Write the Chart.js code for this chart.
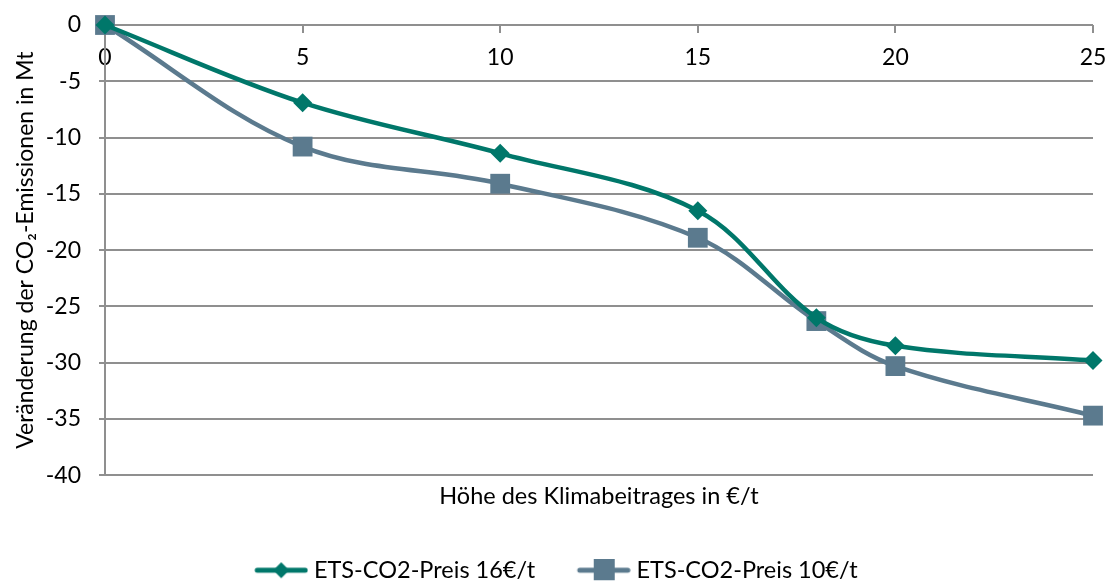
<!DOCTYPE html>
<html>
<head>
<meta charset="utf-8">
<script src="https://cdn.jsdelivr.net/npm/chart.js@4.4.1/dist/chart.umd.min.js"></script>
<style>
  html, body { margin: 0; padding: 0; background: #fff; }
  #wrap { width: 1110px; height: 581px; }
</style>
</head>
<body>
<div id="wrap"><canvas id="chart"></canvas></div>
<script>
// Data
const klimabeitrag = [0, 5, 10, 15, 18, 20, 25];
const preis16 = [0, -6.9, -11.4, -16.5, -26.0, -28.5, -29.8];
const preis10 = [0, -10.8, -14.1, -18.9, -26.3, -30.3, -34.7];
const seriesNames = ['ETS-CO2-Preis 16€/t', 'ETS-CO2-Preis 10€/t'];
const xTicks = [0, 5, 10, 15, 20, 25];
const yTicks = [0, -5, -10, -15, -20, -25, -30, -35, -40];

const green = '#00776a';
const slate = '#5b7a8e';
const gridGray = '#8f8f8f';
const fontFamily = 'Lato, "Open Sans", sans-serif';

// legend icon: line with marker, drawn at the right end of a wider canvas
function legendIcon(color, shape) {
    const c = document.createElement('canvas');
    c.width = 67; c.height = 22;
    const g = c.getContext('2d');
    const o = 13; // left offset
    g.strokeStyle = color;
    g.lineWidth = 5;
    g.lineCap = 'round';
    g.beginPath(); g.moveTo(o + 3, 11); g.lineTo(o + 51, 11); g.stroke();
    g.fillStyle = color;
    g.beginPath();
    if (shape === 'diamond') {
        g.moveTo(o + 27, 3); g.lineTo(o + 35, 11); g.lineTo(o + 27, 19); g.lineTo(o + 19, 11);
    } else {
        g.rect(o + 17, 0, 21, 21);
    }
    g.fill();
    return c;
}
const icons = [legendIcon(green, 'diamond'), legendIcon(slate, 'square')];

const toPoints = vals => vals.map((v, i) => ({ x: klimabeitrag[i], y: v }));

new Chart(document.getElementById('chart'), {
    type: 'line',
    data: {
        datasets: [
            {
                label: seriesNames[0],
                data: toPoints(preis16),
                borderColor: green,
                backgroundColor: green,
                borderWidth: 4.5,
                pointStyle: 'rectRot',
                pointRadius: 9.5,
                pointBorderWidth: 0,
                tension: 0.35,
                clip: false
            },
            {
                label: seriesNames[1],
                data: toPoints(preis10),
                borderColor: slate,
                backgroundColor: slate,
                borderWidth: 4.5,
                pointStyle: 'rect',
                pointRadius: 14,
                pointBorderWidth: 0,
                tension: 0.35,
                clip: false
            }
        ]
    },
    options: {
        responsive: true,
        maintainAspectRatio: false,
        animation: false,
        layout: { padding: { top: 25, right: 17, left: 12, bottom: 0 } },
        scales: {
            x: {
                type: 'linear',
                position: { y: 0 },
                min: 0,
                max: 25,
                afterBuildTicks: s => { s.ticks = xTicks.map(v => ({ value: v })); },
                afterFit: s => { s.paddingLeft = 0; s.paddingRight = 0; },
                grid: { drawOnChartArea: false, drawTicks: true, tickLength: 8, color: gridGray, lineWidth: 2 },
                border: { display: false },
                ticks: { color: '#000', font: { family: fontFamily, size: 23 }, padding: 11 }
            },
            y: {
                min: -40,
                max: 0,
                afterBuildTicks: s => { s.ticks = yTicks.map(v => ({ value: v })); },
                afterFit: s => { s.width = 93; s.paddingTop = 0; s.paddingBottom = 0; },
                grid: { color: gridGray, lineWidth: 2, tickLength: 6 },
                border: { color: gridGray, width: 2 },
                ticks: { color: '#000', font: { family: fontFamily, size: 23 }, padding: 18 },
                title: {
                    display: true,
                    text: 'Veränderung der CO₂-Emissionen in Mt',
                    color: '#000',
                    font: { family: fontFamily, size: 23 },
                    padding: { top: 0, bottom: 0 }
                }
            }
        },
        plugins: {
            tooltip: { enabled: false },
            title: {
                display: true,
                position: 'bottom',
                weight: 500,
                fullSize: false,
                text: 'Höhe des Klimabeitrages in €/t',
                color: '#000',
                font: { family: fontFamily, size: 23.5, weight: 'normal' },
                padding: { top: 7, bottom: 13.5 }
            },
            legend: {
                position: 'bottom',
                maxHeight: 57,
                labels: {
                    usePointStyle: true,
                    pointStyleWidth: 55,
                    color: '#000',
                    font: { family: fontFamily, size: 23.5 },
                    padding: 34.5,
                    generateLabels: chart => chart.data.datasets.map((d, i) => ({
                        text: d.label,
                        pointStyle: icons[i],
                        fillStyle: d.borderColor,
                        strokeStyle: d.borderColor,
                        lineWidth: 0,
                        datasetIndex: i
                    }))
                }
            }
        }
    }
});
</script>
</body>
</html>
